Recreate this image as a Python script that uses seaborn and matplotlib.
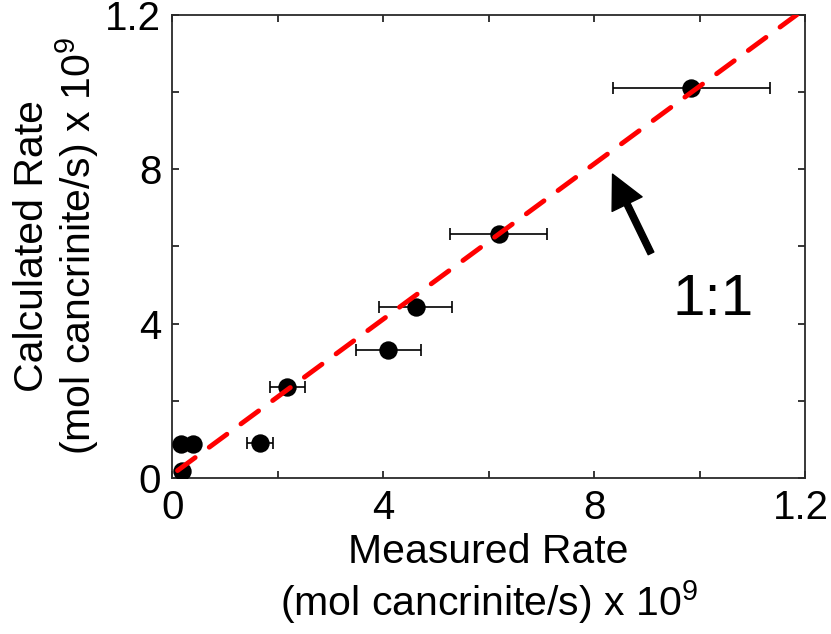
import matplotlib
matplotlib.use("Agg")
import matplotlib.pyplot as plt
import matplotlib.transforms as mtransforms
import seaborn as sns
import pandas as pd
from matplotlib.ticker import FixedLocator, FuncFormatter

# ---- data ----
measured = [0.18, 0.16, 0.39, 1.66, 2.18, 4.10, 4.62, 6.19, 9.84]
calculated = [0.19, 0.90, 0.90, 0.92, 2.35, 3.32, 4.43, 6.31, 10.11]
measured_err = [0.0, 0.0, 0.0, 0.25, 0.33, 0.61, 0.69, 0.92, 1.49]
line_x = [0.10, 11.85]
line_y = [0.20, 12.00]
tick_values = [0, 2, 4, 6, 8, 10, 12]
tick_labels = {0: "0", 4: "4", 8: "8", 12: "1.2"}

df = pd.DataFrame({"measured": measured, "calculated": calculated, "err": measured_err})
line_df = pd.DataFrame({"x": line_x, "y": line_y})

sns.set_theme(style="ticks")
plt.rcParams["font.family"] = ["Liberation Sans", "DejaVu Sans"]
plt.rcParams["mathtext.default"] = "regular"
plt.rcParams["text.color"] = "black"
plt.rcParams["axes.labelcolor"] = "black"

fig = plt.figure(figsize=(8.31, 6.34), dpi=100)
ax = fig.add_axes([0.2073, 0.2456, 0.9687 - 0.2073, 0.9771 - 0.2456])

# error bars (only where there is an error)
err_df = df[df["err"] > 0]
ax.errorbar(err_df["measured"], err_df["calculated"], xerr=err_df["err"],
            fmt="none", ecolor="black", elinewidth=1.2, capsize=4, capthick=1.2, zorder=2)

sns.scatterplot(data=df, x="measured", y="calculated", ax=ax, color="black",
                s=175, edgecolor="black", linewidth=0, zorder=3, legend=False)

sns.lineplot(data=line_df, x="x", y="y", ax=ax, color="#ff0000", linewidth=3.5,
             dashes=False, zorder=4, estimator=None, sort=False)
ln = ax.lines[-1]
ln.set_dashes([4.5, 3.6])
ln.set_dash_capstyle("round")

# arrow + label
ax.annotate("", xy=(8.35, 7.87), xytext=(9.08, 5.82),
            arrowprops=dict(facecolor="black", edgecolor="black", width=4.5,
                            headwidth=24, headlength=24, shrink=0),
            zorder=5)
ax.text(10.26, 4.61, "1:1", fontsize=42, ha="center", va="center", color="black")

ax.set_xlim(0, 12)
ax.set_ylim(0, 12)
for axis in (ax.xaxis, ax.yaxis):
    axis.set_major_locator(FixedLocator(tick_values))
    axis.set_major_formatter(FuncFormatter(lambda v, p: tick_labels.get(int(round(v)), "")))

ax.tick_params(direction="in", length=5, width=1.1, top=True, right=True,
               labelsize=29, colors="black", labelcolor="black", pad=8)
for sp in ax.spines.values():
    sp.set_visible(True)
    sp.set_color("#2a2a2a")
    sp.set_linewidth(1.3)

ax.set_xlabel("Measured Rate\n(mol cancrinite/s) x 10$^9$", fontsize=29.5,
              labelpad=4, linespacing=1.2)
ax.set_ylabel("Calculated Rate\n(mol cancrinite/s) x 10$^9$", fontsize=29.5,
              labelpad=3, linespacing=1.05)

# nudge the last x tick label slightly left so it stays inside the canvas
fig.canvas.draw()
last = ax.get_xticklabels()[-1]
last.set_transform(last.get_transform() +
                   mtransforms.ScaledTranslation(-4 / 100, 0, fig.dpi_scale_trans))

fig.savefig("out.png", dpi=100)
